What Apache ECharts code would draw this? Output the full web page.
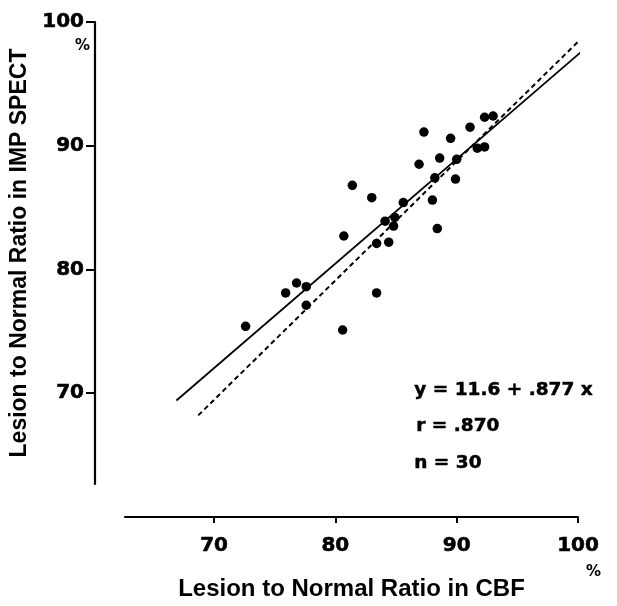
<!DOCTYPE html>
<html>
<head>
<meta charset="utf-8">
<script src="https://cdn.jsdelivr.net/npm/echarts@6/dist/echarts.min.js"></script>
<style>
html,body{margin:0;padding:0;background:#fff;}
#chart{width:617px;height:606px;}
</style>
</head>
<body>
<div id="chart"></div>
<script>
// CBF ratio (x) vs IMP SPECT ratio (y)
const cbfRatio = [92.3, 93.0, 91.1, 87.3, 89.5, 91.7, 92.3, 86.9, 88.6, 90.0,
                  88.2, 89.9, 81.4, 83.0, 85.6, 88.0, 84.1, 84.9, 84.8, 80.7,
                  83.4, 84.4, 88.4, 76.8, 77.6, 75.9, 83.4, 77.6, 72.6, 80.6];
const spectRatio = [92.3, 92.4, 91.5, 91.1, 90.6, 89.8, 89.9, 88.5, 89.0, 88.9,
                    87.4, 87.3, 86.8, 85.8, 85.4, 85.6, 83.9, 84.2, 83.5, 82.7,
                    82.1, 82.2, 83.3, 78.9, 78.6, 78.1, 78.1, 77.1, 75.4, 75.1];
// regression line (solid) and identity line (dashed) end points as drawn
const fitLineX = [66.9, 100.4];
const fitLineY = [69.4, 97.7];
const identityX = [68.7, 100.1];
const identityY = [68.2, 98.5];
const tickValues = [70, 80, 90, 100];
const xTitle = 'Lesion to Normal Ratio in CBF';
const yTitle = 'Lesion to Normal Ratio in IMP SPECT';
const statLines = ['y = 11.6 + .877 x', 'r = .870', 'n = 30'];

const points = cbfRatio.map((x, i) => [x, spectRatio[i]]);
const fitData = fitLineX.map((x, i) => [x, fitLineY[i]]);
const idData = identityX.map((x, i) => [x, identityY[i]]);

const tickFont = {fontFamily: 'DejaVu Sans', fontWeight: 'bold', fontSize: 20, color: '#000',
                  textBorderColor: '#000', textBorderWidth: 0.6};
const statStyle = {fontFamily: 'DejaVu Sans', fontWeight: 'bold', fontSize: 18.5, fill: '#000',
                   stroke: '#000', lineWidth: 0.5};

const chart = echarts.init(document.getElementById('chart'));
chart.setOption({
  animation: false,
  backgroundColor: '#fff',
  grid: {left: 125, right: 39, top: 22, bottom: 119},
  xAxis: {
    type: 'value', min: 62.66, max: 100, offset: 33,
    splitLine: {show: false},
    axisLine: {show: true, lineStyle: {color: '#000', width: 2.2}},
    axisTick: {show: true, length: 6, customValues: tickValues, lineStyle: {color: '#000', width: 2}},
    axisLabel: Object.assign({customValues: tickValues, margin: 19}, tickFont),
    name: xTitle, nameLocation: 'middle', nameGap: 60,
    nameTextStyle: {fontFamily: 'Liberation Sans', fontWeight: 'bold', fontSize: 24, color: '#000'}
  },
  yAxis: {
    type: 'value', min: 62.65, max: 100, offset: 30,
    splitLine: {show: false},
    axisLine: {show: true, lineStyle: {color: '#000', width: 2.2}},
    axisTick: {show: true, length: 9, customValues: tickValues, lineStyle: {color: '#000', width: 2}},
    axisLabel: Object.assign({customValues: tickValues, margin: 11}, tickFont),
    name: yTitle, nameLocation: 'middle', nameGap: 58,
    nameTextStyle: {fontFamily: 'Liberation Sans', fontWeight: 'bold', fontSize: 23, color: '#000'}
  },
  graphic: [
    {type: 'text', left: 75, top: 39, style: {text: '%', fontFamily: 'DejaVu Sans', fontWeight: 'bold', fontSize: 15, fill: '#000'}},
    {type: 'text', left: 586, top: 565, style: {text: '%', fontFamily: 'DejaVu Sans', fontWeight: 'bold', fontSize: 15, fill: '#000'}},
    {type: 'text', left: 414, top: 380, style: Object.assign({text: statLines[0]}, statStyle)},
    {type: 'text', left: 416, top: 416, style: Object.assign({text: statLines[1]}, statStyle)},
    {type: 'text', left: 414, top: 453, style: Object.assign({text: statLines[2]}, statStyle)}
  ],
  series: [
    {type: 'line', data: fitData, showSymbol: false, clip: false, silent: true,
     lineStyle: {color: '#000', width: 1.8, type: 'solid'}},
    {type: 'line', data: idData, showSymbol: false, clip: false, silent: true,
     lineStyle: {color: '#000', width: 2, type: [5, 3.5]}},
    {type: 'scatter', data: points, symbol: 'circle', symbolSize: 9.5, clip: false,
     itemStyle: {color: '#000', opacity: 1}}
  ]
});
</script>
</body>
</html>
